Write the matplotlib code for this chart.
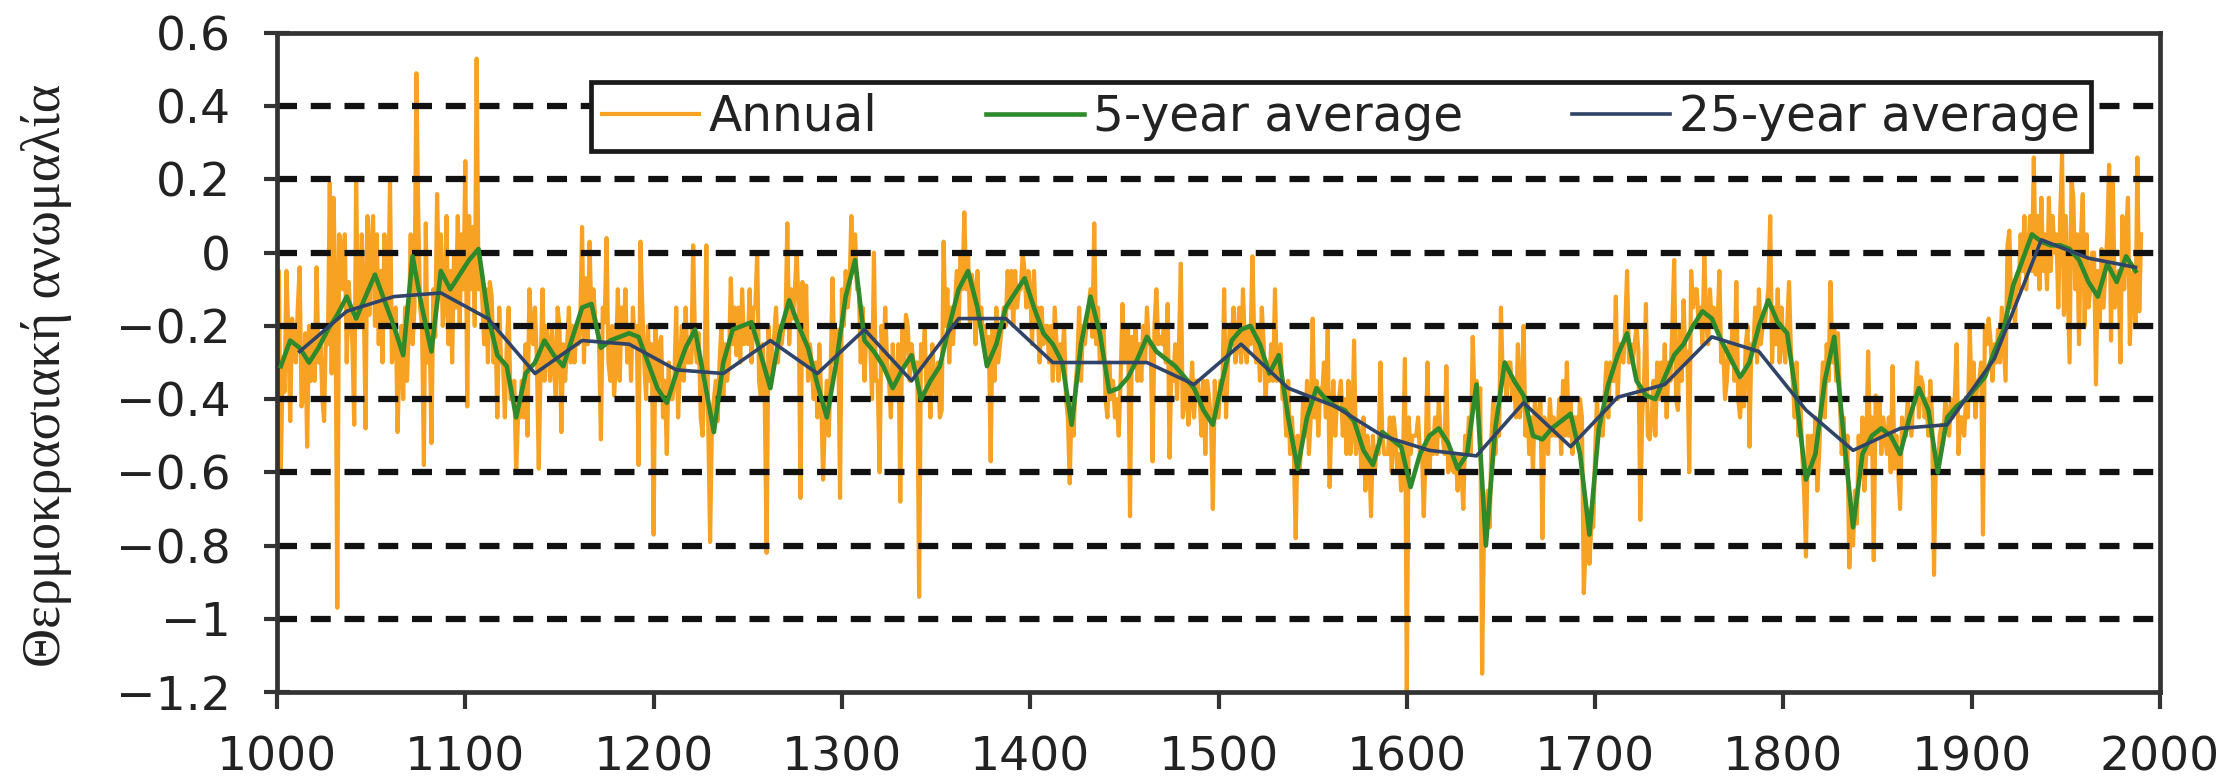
import numpy as np
import matplotlib
matplotlib.use("Agg")
import matplotlib.pyplot as plt

# ---------------------------------------------------------------------------
# Temperature anomaly reconstruction, AD 1000-1990
# ---------------------------------------------------------------------------
first_year = 1000

# Annual anomalies (one row per decade, starting at 1000)
annual = [
    -0.20, -0.05, -0.60, -0.30, -0.38, -0.05, -0.22, -0.46, -0.18, -0.28,
    -0.30, -0.15, -0.04, -0.42, -0.39, -0.22, -0.53, -0.20, -0.35, -0.20,
    -0.35, -0.04, -0.30, -0.22, -0.39, -0.46, -0.20, -0.25, 0.19, -0.33,
    0.15, -0.10, -0.97, 0.05, 0.02, -0.10, 0.05, -0.30, -0.08, -0.17,
    -0.25, -0.47, 0.20, -0.18, -0.20, 0.05, -0.10, -0.48, 0.10, -0.17,
    0.00, 0.10, -0.20, 0.05, -0.25, -0.05, -0.30, 0.05, -0.20, -0.15,
    0.20, -0.30, -0.25, -0.15, -0.49, -0.30, -0.20, -0.40, -0.15, -0.35,
    -0.20, 0.05, -0.25, -0.15, 0.49, 0.10, -0.15, -0.20, -0.58, 0.08,
    -0.30, -0.20, -0.52, -0.10, -0.23, 0.16, -0.10, 0.05, -0.20, -0.15,
    0.10, -0.25, -0.05, -0.30, 0.00, -0.15, 0.10, -0.20, 0.05, -0.10,
    0.25, -0.42, 0.10, -0.10, 0.07, -0.20, 0.53, -0.10, -0.05, -0.13,
    -0.25, -0.10, -0.30, -0.08, -0.12, -0.30, -0.20, -0.45, -0.15, -0.30,
    -0.30, -0.45, -0.25, -0.15, -0.40, -0.40, -0.35, -0.60, -0.45, -0.45,
    -0.35, -0.45, -0.25, -0.50, -0.10, -0.20, -0.25, -0.15, -0.30, -0.59,
    -0.30, -0.10, -0.35, -0.20, -0.25, -0.35, -0.20, -0.30, -0.40, -0.15,
    -0.20, -0.49, -0.25, -0.35, -0.26, -0.15, -0.30, -0.20, -0.30, -0.20,
    -0.25, -0.20, 0.07, -0.30, -0.07, -0.25, 0.03, -0.20, -0.10, -0.18,
    -0.20, -0.25, -0.51, -0.15, -0.19, 0.04, -0.30, -0.35, -0.20, -0.39,
    -0.30, -0.10, -0.35, -0.15, -0.25, -0.10, -0.30, -0.20, -0.35, -0.15,
    -0.25, -0.20, -0.58, 0.03, -0.15, -0.30, -0.40, -0.20, -0.35, -0.25,
    -0.77, -0.20, -0.40, -0.25, -0.23, -0.45, -0.35, -0.55, -0.30, -0.40,
    -0.40, -0.35, -0.15, -0.45, -0.30, -0.20, -0.35, -0.15, -0.30, -0.30,
    -0.30, 0.02, -0.25, -0.30, -0.22, -0.45, -0.50, -0.35, 0.02, -0.47,
    -0.79, -0.45, -0.40, -0.35, -0.46, -0.30, -0.20, -0.40, -0.25, -0.35,
    -0.30, -0.07, -0.25, -0.15, -0.28, -0.15, -0.30, -0.10, -0.25, -0.20,
    -0.25, -0.10, -0.30, -0.15, -0.15, 0.00, -0.35, -0.40, -0.25, -0.40,
    -0.82, -0.20, -0.35, -0.25, -0.23, -0.15, -0.30, -0.20, -0.25, -0.20,
    -0.20, 0.08, -0.25, -0.10, -0.18, -0.10, 0.00, -0.15, -0.67, -0.08,
    -0.30, -0.09, -0.35, -0.25, -0.31, -0.40, -0.30, -0.45, -0.25, -0.40,
    -0.62, -0.45, -0.35, -0.50, -0.33, -0.07, -0.30, -0.25, -0.21, -0.67,
    -0.10, -0.20, -0.05, -0.15, -0.10, 0.10, -0.05, 0.05, -0.10, -0.10,
    -0.30, -0.15, -0.35, -0.20, -0.20, -0.25, -0.40, 0.00, -0.35, -0.35,
    -0.60, -0.20, -0.30, -0.15, -0.30, -0.35, -0.45, -0.25, -0.40, -0.40,
    -0.25, -0.68, -0.20, -0.30, -0.17, -0.20, -0.35, -0.25, -0.30, -0.30,
    -0.30, -0.94, -0.25, -0.30, -0.21, -0.40, -0.30, -0.45, -0.25, -0.35,
    -0.40, -0.30, -0.45, -0.43, 0.03, -0.20, -0.10, -0.30, -0.15, -0.25,
    -0.15, -0.05, -0.20, 0.00, -0.10, 0.11, -0.10, 0.00, -0.20, -0.06,
    -0.10, -0.25, -0.05, -0.20, -0.15, -0.25, -0.20, -0.30, -0.23, -0.57,
    -0.20, -0.35, -0.15, -0.30, -0.25, -0.20, -0.15, -0.20, -0.05, -0.15,
    -0.05, -0.20, -0.05, -0.15, -0.10, -0.10, 0.00, -0.05, -0.15, -0.05,
    -0.10, -0.25, -0.05, -0.20, -0.15, -0.30, -0.15, -0.25, -0.20, -0.20,
    -0.30, -0.20, -0.35, -0.15, -0.25, -0.35, -0.25, -0.30, -0.20, -0.40,
    -0.45, -0.63, -0.40, -0.50, -0.37, -0.30, -0.15, -0.35, -0.20, -0.25,
    -0.20, -0.15, -0.10, -0.23, 0.08, -0.25, -0.15, -0.30, -0.20, -0.20,
    -0.40, -0.45, -0.30, -0.40, -0.35, -0.45, -0.40, -0.50, -0.35, -0.14,
    -0.30, -0.25, -0.20, -0.72, -0.23, -0.30, -0.20, -0.35, -0.25, -0.35,
    -0.20, -0.30, -0.15, -0.25, -0.25, -0.57, -0.20, -0.10, -0.25, -0.23,
    -0.25, -0.20, -0.30, -0.14, -0.56, -0.30, -0.35, -0.25, -0.40, -0.25,
    -0.03, -0.45, -0.40, -0.35, -0.47, -0.40, -0.30, -0.45, -0.35, -0.35,
    -0.40, -0.50, -0.35, -0.55, -0.35, -0.40, -0.45, -0.70, -0.35, -0.45,
    -0.45, -0.35, -0.40, -0.10, -0.45, -0.30, -0.20, -0.25, -0.15, -0.30,
    -0.25, -0.15, -0.30, -0.10, -0.25, -0.30, -0.20, -0.25, -0.01, -0.24,
    -0.30, -0.20, -0.35, -0.15, -0.25, -0.40, -0.30, -0.35, -0.25, -0.35,
    -0.10, -0.35, -0.30, -0.25, -0.40, -0.40, -0.50, -0.35, -0.55, -0.45,
    -0.55, -0.78, -0.50, -0.60, -0.52, -0.40, -0.50, -0.35, -0.55, -0.45,
    -0.18, -0.45, -0.35, -0.50, -0.37, -0.40, -0.30, -0.45, -0.21, -0.64,
    -0.45, -0.35, -0.50, -0.40, -0.40, -0.35, -0.50, -0.40, -0.55, -0.35,
    -0.55, -0.50, -0.24, -0.55, -0.46, -0.50, -0.60, -0.45, -0.65, -0.50,
    -0.55, -0.72, -0.50, -0.60, -0.53, -0.55, -0.30, -0.50, -0.55, -0.55,
    -0.55, -0.45, -0.60, -0.45, -0.50, -0.60, -0.55, -0.65, -0.56, -0.29,
    -1.20, -0.45, -0.55, -0.50, -0.50, -0.50, -0.45, -0.55, -0.53, -0.72,
    -0.55, -0.30, -0.60, -0.50, -0.55, -0.45, -0.55, -0.40, -0.50, -0.50,
    -0.55, -0.31, -0.60, -0.55, -0.59, -0.60, -0.55, -0.65, -0.55, -0.60,
    -0.70, -0.50, -0.55, -0.45, -0.55, -0.23, -0.40, -0.35, -0.45, -0.37,
    -1.15, -0.75, -0.70, -0.65, -0.75, -0.50, -0.40, -0.55, -0.45, -0.50,
    -0.15, -0.35, -0.30, -0.40, -0.30, -0.30, -0.40, -0.35, -0.45, -0.25,
    -0.45, -0.40, -0.20, -0.50, -0.40, -0.55, -0.45, -0.60, -0.40, -0.50,
    -0.45, -0.40, -0.78, -0.45, -0.47, -0.55, -0.40, -0.50, -0.45, -0.50,
    -0.50, -0.40, -0.55, -0.35, -0.50, -0.30, -0.50, -0.40, -0.55, -0.45,
    -0.45, -0.50, -0.40, -0.45, -0.93, -0.80, -0.70, -0.85, -0.75, -0.75,
    -0.55, -0.40, -0.50, -0.45, -0.50, -0.40, -0.30, -0.45, -0.30, -0.35,
    -0.35, -0.12, -0.40, -0.25, -0.28, -0.30, -0.20, -0.05, -0.30, -0.25,
    -0.30, -0.25, -0.20, -0.27, -0.73, -0.45, -0.35, -0.14, -0.50, -0.51,
    -0.45, -0.35, -0.50, -0.30, -0.40, -0.30, -0.40, -0.25, -0.45, -0.30,
    -0.35, -0.20, -0.02, -0.40, -0.43, -0.20, -0.35, -0.13, -0.30, -0.27,
    -0.60, -0.05, -0.15, -0.10, -0.10, -0.20, -0.15, -0.25, -0.01, -0.19,
    -0.25, -0.10, -0.20, -0.15, -0.20, -0.20, -0.05, -0.30, -0.25, -0.40,
    -0.35, -0.25, -0.30, -0.20, -0.35, -0.08, -0.40, -0.45, -0.35, -0.42,
    -0.25, -0.20, -0.53, -0.25, -0.27, -0.15, -0.30, -0.10, -0.25, -0.20,
    -0.20, -0.15, -0.10, 0.10, -0.30, -0.15, -0.25, -0.10, -0.30, -0.15,
    -0.25, -0.30, -0.20, -0.08, -0.27, -0.35, -0.45, -0.30, -0.50, -0.40,
    -0.55, -0.65, -0.83, -0.50, -0.57, -0.50, -0.60, -0.45, -0.65, -0.55,
    -0.40, -0.30, -0.45, -0.25, -0.35, -0.08, -0.30, -0.20, -0.35, -0.22,
    -0.40, -0.55, -0.45, -0.60, -0.50, -0.86, -0.70, -0.80, -0.65, -0.74,
    -0.50, -0.60, -0.45, -0.65, -0.55, -0.27, -0.55, -0.45, -0.84, -0.39,
    -0.50, -0.40, -0.55, -0.45, -0.50, -0.55, -0.45, -0.60, -0.31, -0.59,
    -0.50, -0.60, -0.70, -0.45, -0.50, -0.50, -0.40, -0.45, -0.50, -0.40,
    -0.40, -0.30, -0.45, -0.34, -0.36, -0.45, -0.40, -0.50, -0.35, -0.45,
    -0.88, -0.55, -0.60, -0.50, -0.47, -0.50, -0.40, -0.45, -0.50, -0.40,
    -0.45, -0.40, -0.25, -0.55, -0.45, -0.45, -0.50, -0.40, -0.45, -0.21,
    -0.40, -0.30, -0.45, -0.35, -0.35, -0.30, -0.77, -0.20, -0.25, -0.18,
    -0.24, -0.35, -0.25, -0.30, -0.21, -0.30, -0.15, -0.25, -0.35, 0.02,
    0.06, -0.15, -0.10, -0.20, -0.06, -0.10, 0.05, -0.05, 0.10, -0.10,
    0.00, 0.10, -0.05, 0.26, -0.06, 0.10, -0.10, 0.15, -0.05, 0.05,
    -0.10, 0.15, -0.05, 0.10, 0.00, 0.05, -0.15, 0.10, 0.27, -0.17,
    0.10, -0.10, -0.30, 0.20, 0.15, -0.10, 0.05, -0.25, 0.04, 0.16,
    -0.20, 0.05, -0.15, -0.10, 0.00, 0.00, -0.36, -0.05, -0.20, 0.01,
    -0.15, -0.05, 0.05, 0.24, -0.24, 0.20, -0.15, -0.10, -0.05, -0.30,
    0.10, -0.10, 0.05, 0.15, -0.25, -0.10, -0.05, -0.20, 0.26, -0.16,
    0.05,
]

# 5-year averages, first value centred on 1002
avg5_start = 1002
avg5 = [
    -0.31, -0.24, -0.26, -0.30, -0.26, -0.21, -0.17, -0.12, -0.18, -0.12,
    -0.06, -0.13, -0.20, -0.28, -0.01, -0.15, -0.27, -0.05, -0.10, -0.06,
    -0.02, 0.01, -0.17, -0.28, -0.31, -0.45, -0.33,
    -0.30, -0.24, -0.28, -0.31, -0.23, -0.15, -0.14, -0.26, -0.24, -0.23,
    -0.22, -0.23, -0.30, -0.37, -0.41, -0.33, -0.26, -0.21, -0.35, -0.49,
    -0.30, -0.21, -0.20, -0.19, -0.28, -0.37, -0.22, -0.13, -0.20, -0.26,
    -0.36, -0.45, -0.30, -0.12, -0.02, -0.24,
    -0.27, -0.31, -0.37, -0.32, -0.28, -0.40, -0.35, -0.31, -0.20, -0.10,
    -0.05, -0.15, -0.31, -0.25, -0.15, -0.11, -0.07, -0.15, -0.22, -0.25,
    -0.30, -0.47, -0.25, -0.12, -0.22, -0.38, -0.37, -0.34, -0.29, -0.23,
    -0.27, -0.29, -0.31, -0.34, -0.37,
    -0.43, -0.47, -0.35, -0.24, -0.21, -0.20, -0.25, -0.33, -0.28, -0.45,
    -0.59, -0.45, -0.37, -0.40, -0.42, -0.43, -0.46, -0.54, -0.58, -0.49,
    -0.51, -0.53, -0.64, -0.55, -0.50, -0.48, -0.52, -0.59, -0.55, -0.36,
    -0.80, -0.48, -0.30, -0.35, -0.39,
    -0.50, -0.51, -0.48, -0.46, -0.44, -0.55, -0.77, -0.48, -0.36, -0.28,
    -0.22, -0.35, -0.39, -0.40, -0.34, -0.28, -0.25, -0.20, -0.16, -0.18,
    -0.24, -0.29, -0.34, -0.30, -0.20, -0.13, -0.19, -0.22, -0.40, -0.62,
    -0.55, -0.35, -0.23, -0.50, -0.75,
    -0.55, -0.50, -0.48, -0.50, -0.55, -0.45, -0.37, -0.43, -0.60, -0.45,
    -0.42, -0.40, -0.37, -0.34, -0.27, -0.21, -0.09, -0.02, 0.05, 0.03,
    0.02, 0.02, 0.01, -0.02, -0.08, -0.12, -0.03, -0.08, -0.01, -0.05,
]

# 25-year averages, first value centred on 1012
avg25_start = 1012
avg25 = [
    -0.27, -0.16, -0.12, -0.11, -0.18, -0.33, -0.24, -0.25, -0.32, -0.33,
    -0.24, -0.33, -0.21, -0.35, -0.18, -0.18, -0.30, -0.30, -0.30, -0.36,
    -0.25, -0.37, -0.42, -0.50, -0.54, -0.555, -0.41, -0.53, -0.395, -0.36,
    -0.23, -0.27, -0.43, -0.54, -0.48, -0.47, -0.29, 0.035, -0.015, -0.04,
]

series_labels = ["Annual", "5-year average", "25-year average"]
y_label = "Θερμοκρασιακή ανωμαλία"

x_ticks = [1000, 1100, 1200, 1300, 1400, 1500, 1600, 1700, 1800, 1900, 2000]
y_ticks = [-1.2, -1.0, -0.8, -0.6, -0.4, -0.2, 0.0, 0.2, 0.4, 0.6]
y_tick_labels = ["\u22121.2", "\u22121", "\u22120.8", "\u22120.6", "\u22120.4",
                 "\u22120.2", "0", "0.2", "0.4", "0.6"]
grid_levels = [-1.0, -0.8, -0.6, -0.4, -0.2, 0.0, 0.2, 0.4]

# ---------------------------------------------------------------------------
# Styling
# ---------------------------------------------------------------------------
c_annual = "#F7A223"
c_avg5 = "#2E8A2A"
c_avg25 = "#2F4468"
c_frame = "#333333"

plt.rcParams["font.family"] = ["DejaVu Sans"]

fig = plt.figure(figsize=(22.36, 7.8), dpi=100)
ax = fig.add_axes([0.1239, 0.1128, 0.8421, 0.8449])

yrs_annual = first_year + np.arange(len(annual))
yrs_5 = avg5_start + 5 * np.arange(len(avg5))
yrs_25 = avg25_start + 25 * np.arange(len(avg25))

ax.plot(yrs_annual, annual, color=c_annual, lw=3.0, zorder=2,
        label=series_labels[0])
for lvl in grid_levels:
    ax.axhline(lvl, color="#111111", lw=4.5, ls=(0, (3.2, 2.2)), zorder=2.5)
ax.plot(yrs_5, avg5, color=c_avg5, lw=3.3, zorder=3, label=series_labels[1])
ax.plot(yrs_25, avg25, color=c_avg25, lw=2.6, zorder=3.5,
        label=series_labels[2])

ax.set_xlim(1000, 2000)
ax.set_ylim(-1.2, 0.6)
ax.set_xticks(x_ticks)
ax.set_xticklabels([str(t) for t in x_ticks])
ax.set_yticks(y_ticks)
ax.set_yticklabels(y_tick_labels)

for side in ["left", "right", "top", "bottom"]:
    ax.spines[side].set_color(c_frame)
    ax.spines[side].set_linewidth(3.4)

ax.tick_params(axis="x", direction="out", length=12, width=3, color=c_frame,
               labelsize=34, pad=19, labelcolor="#222222")
ax.tick_params(axis="y", direction="inout", length=19, width=3,
               color=c_frame, labelsize=34, pad=24, labelcolor="#222222")

leg = ax.legend(loc="upper left", bbox_to_anchor=(0.1667, 0.821, 0.7967, 0.1046),
                mode="expand", ncol=3, frameon=True, fancybox=False,
                borderaxespad=0, borderpad=0.22, handlelength=2.0,
                handletextpad=0.2, columnspacing=1.0,
                prop={"family": "DejaVu Sans", "size": 35})
leg.get_frame().set_edgecolor("#1a1a1a")
leg.get_frame().set_linewidth(3.4)
leg.get_frame().set_alpha(1.0)
leg.set_zorder(5)
for txt in leg.get_texts():
    txt.set_color("#222222")

fig.text(0.0206, 0.519, y_label, rotation=90, ha="center", va="center",
         fontsize=39, family=["Liberation Serif", "DejaVu Serif"],
         color="#222222")

fig.savefig("out.png", dpi=100, facecolor="white")
